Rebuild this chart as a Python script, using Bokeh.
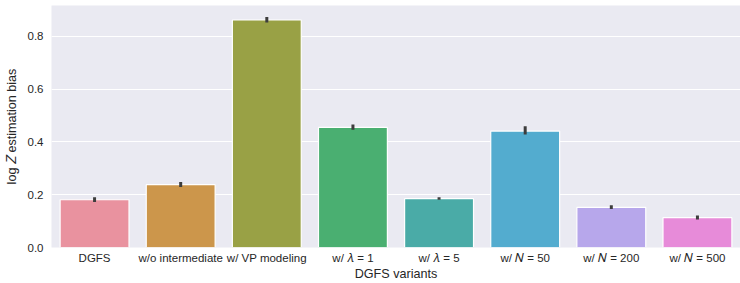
from bokeh.plotting import figure
from bokeh.models import ColumnDataSource, FactorRange, Range1d, PrintfTickFormatter, FixedTicker
from bokeh.embed import file_html
from bokeh.resources import INLINE

categories = ["DGFS", "w/o intermediate", "w/ VP modeling", "w/ 𝜆 = 1", "w/ 𝜆 = 5",
              "w/ 𝑁 = 50", "w/ 𝑁 = 200", "w/ 𝑁 = 500"]
values = [0.181, 0.238, 0.862, 0.455, 0.185, 0.441, 0.152, 0.113]
err_low = [0.172, 0.229, 0.853, 0.446, 0.181, 0.428, 0.146, 0.106]
err_high = [0.190, 0.248, 0.873, 0.466, 0.190, 0.459, 0.160, 0.121]
colors = ["#e9929f", "#cc964b", "#99a145", "#4aaf71", "#4aaba7", "#53accf", "#b7a7eb", "#e78bd9"]
y_ticks = [0.0, 0.2, 0.4, 0.6, 0.8]

src = ColumnDataSource(dict(cat=categories, val=values, lo=err_low, hi=err_high, col=colors))

p = figure(width=740, height=283, output_backend="svg", toolbar_location=None,
           x_range=FactorRange(factors=categories, range_padding=0),
           y_range=Range1d(0, 0.917),
           min_border_left=51, min_border_right=0, min_border_top=5, min_border_bottom=0)

p.background_fill_color = "#eaeaf2"
p.border_fill_color = "white"
p.outline_line_color = None

p.vbar(x="cat", top="val", width=0.8, source=src, fill_color="col",
       line_color="white", line_width=1.2)
p.segment(x0="cat", y0="lo", x1="cat", y1="hi", source=src,
          line_color="#3d3d3d", line_width=3)

p.xgrid.grid_line_color = None
p.ygrid.grid_line_color = "white"
p.ygrid.grid_line_width = 1.2
p.yaxis.ticker = FixedTicker(ticks=y_ticks)
p.yaxis.formatter = PrintfTickFormatter(format="%.1f")

for ax in (p.xaxis[0], p.yaxis[0]):
    ax.axis_line_color = None
    ax.major_tick_line_color = None
    ax.minor_tick_line_color = None
    ax.major_tick_out = 0
    ax.major_tick_in = 0
    ax.minor_tick_out = 0
    ax.minor_tick_in = 0
    ax.major_label_text_font = "Liberation Sans"
    ax.major_label_text_font_size = "11.5px"
    ax.major_label_text_color = "#262626"
    ax.axis_label_text_font = "Liberation Sans"
    ax.axis_label_text_font_size = "12.6px"
    ax.axis_label_text_font_style = "normal"
    ax.axis_label_text_color = "#262626"

p.xaxis.axis_label = "DGFS variants"
p.yaxis.axis_label = "log 𝑍 estimation bias"
p.xaxis.major_label_standoff = 4
p.xaxis.axis_label_standoff = 0
p.yaxis.major_label_standoff = 8
p.yaxis.axis_label_standoff = 6

open("out.html", "w").write(file_html(p, INLINE))
